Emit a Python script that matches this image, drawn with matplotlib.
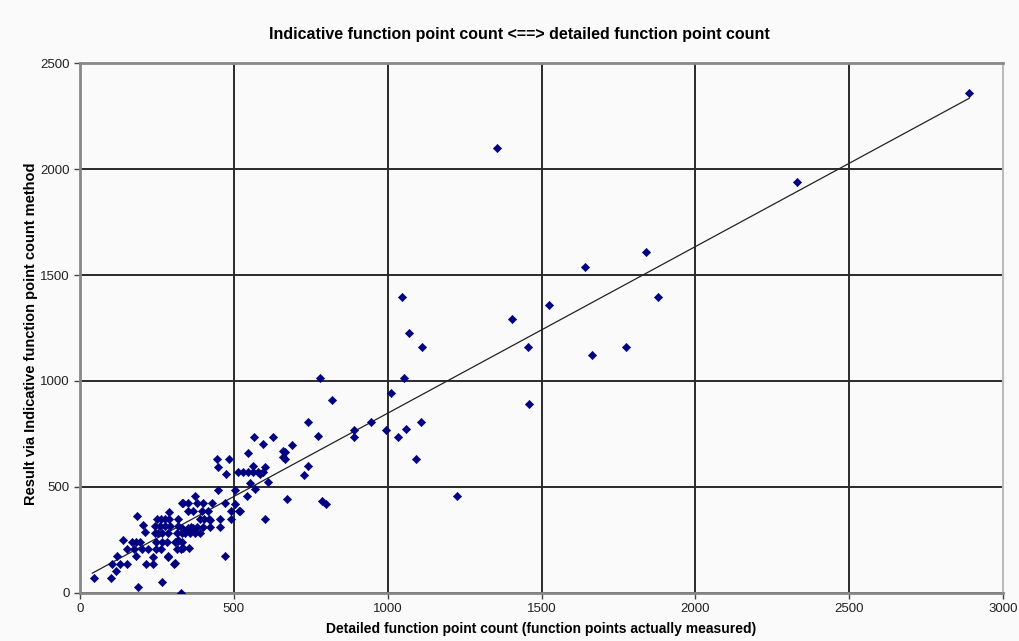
import matplotlib
matplotlib.use('Agg')
import matplotlib.pyplot as plt

plt.rcParams['font.family'] = ['Liberation Sans Narrow', 'Liberation Sans', 'DejaVu Sans']

# Detailed count (x) vs indicative count (y)
detailed = [
    2890, 2330, 1840, 1640, 1880, 1525, 1665, 1775, 1355, 1405, 1455, 1460, 1225,
    1045, 1070, 1112, 1052, 1012, 1058, 1035, 1108, 1092, 995, 945, 890, 890,
    818, 780, 775, 742, 742, 728, 788, 800, 688, 660, 660, 674,
    444, 447, 485, 474, 471, 455, 455, 491, 504, 504, 520, 491, 471, 420, 423, 449,
    515, 531, 545, 561, 577, 596, 545, 563, 566, 596, 628, 601, 569, 542, 612, 600,
    585, 553, 666, 666,
    45, 102, 117, 103, 121, 131, 152, 182, 154, 176, 200, 222, 168, 182, 195, 211,
    186, 190, 265, 328, 215, 236, 238, 246, 263, 247, 265, 282, 244, 254, 267, 286,
    244, 260, 276, 292, 249, 263, 276, 289, 289, 285, 309, 314, 328, 309, 332, 314,
    332, 332, 320, 374, 336, 352, 379, 401, 428, 352, 368, 395, 416, 517, 320, 330,
    350, 368, 342, 358, 374, 320, 334, 355, 307, 287, 317, 360, 379, 401, 403, 390,
    390, 423, 140, 205,
]
indicative = [
    2360, 1940, 1608, 1538, 1396, 1358, 1123, 1160, 2099, 1292, 1160, 892, 458,
    1396, 1226, 1160, 1014, 943, 773, 736, 807, 632, 769, 807, 769, 736,
    910, 1014, 740, 807, 599, 557, 434, 420, 698, 641, 670, 445,
    633, 596, 633, 561, 175, 347, 310, 347, 487, 420, 387, 387, 423, 347, 310, 486,
    570, 570, 570, 570, 570, 570, 662, 599, 737, 701, 737, 349, 489, 458, 525, 596,
    561, 520, 663, 632,
    69, 69, 105, 137, 175, 137, 137, 175, 206, 206, 206, 206, 242, 242, 242, 289,
    365, 30, 53, 0, 137, 137, 171, 206, 206, 242, 242, 242, 282, 282, 282, 282,
    318, 318, 318, 318, 349, 349, 349, 349, 384, 171, 140, 206, 206, 242, 242, 282,
    282, 423, 318, 458, 423, 423, 423, 423, 423, 387, 387, 387, 387, 387, 347, 305,
    305, 305, 282, 282, 282, 250, 211, 211, 137, 175, 247, 313, 313, 313, 350, 350,
    283, 344, 250, 320,
]

# Excel linear trendline
trend_slope = 0.786
trend_intercept = 62
trend_x = [40, 2890]

fig = plt.figure(figsize=(10.2, 6.41), dpi=100, facecolor='#fafafa')
ax = fig.add_axes([0.0784, 0.0749, 0.905, 0.8268])
ax.set_facecolor('#fafafa')

ax.scatter(detailed, indicative, marker='D', s=18, color='#000080',
           edgecolors='#000080', linewidths=0.4, zorder=3)
ax.plot(trend_x, [trend_slope * x + trend_intercept for x in trend_x],
        color='#222222', linewidth=0.9, zorder=2)

ax.set_xlim(0, 3000)
ax.set_ylim(0, 2500)
ax.set_xticks(range(0, 3001, 500))
ax.set_yticks(range(0, 2501, 500))
ax.grid(True, color='#2a2a2a', linewidth=1.4)
ax.set_axisbelow(True)

for side in ['left', 'bottom', 'top']:
    ax.spines[side].set_color('#888888')
    ax.spines[side].set_linewidth(2)
ax.spines['right'].set_color('#bbbbbb')
ax.spines['right'].set_linewidth(1.5)

ax.tick_params(direction='out', length=4, width=1, color='#444444',
               labelsize=9.5, labelcolor='#222222')

ax.set_title('Indicative function point count <==> detailed function point count',
             fontsize=11.5, fontweight='bold', pad=17, x=0.476)
ax.set_xlabel('Detailed function point count (function points actually measured)',
              fontsize=10, fontweight='bold', labelpad=5)
ax.set_ylabel('Result via Indicative function point count method',
              fontsize=10.5, fontweight='bold')
ax.yaxis.set_label_coords(-0.045, 0.49)

fig.savefig('out.png', dpi=100, facecolor=fig.get_facecolor())
